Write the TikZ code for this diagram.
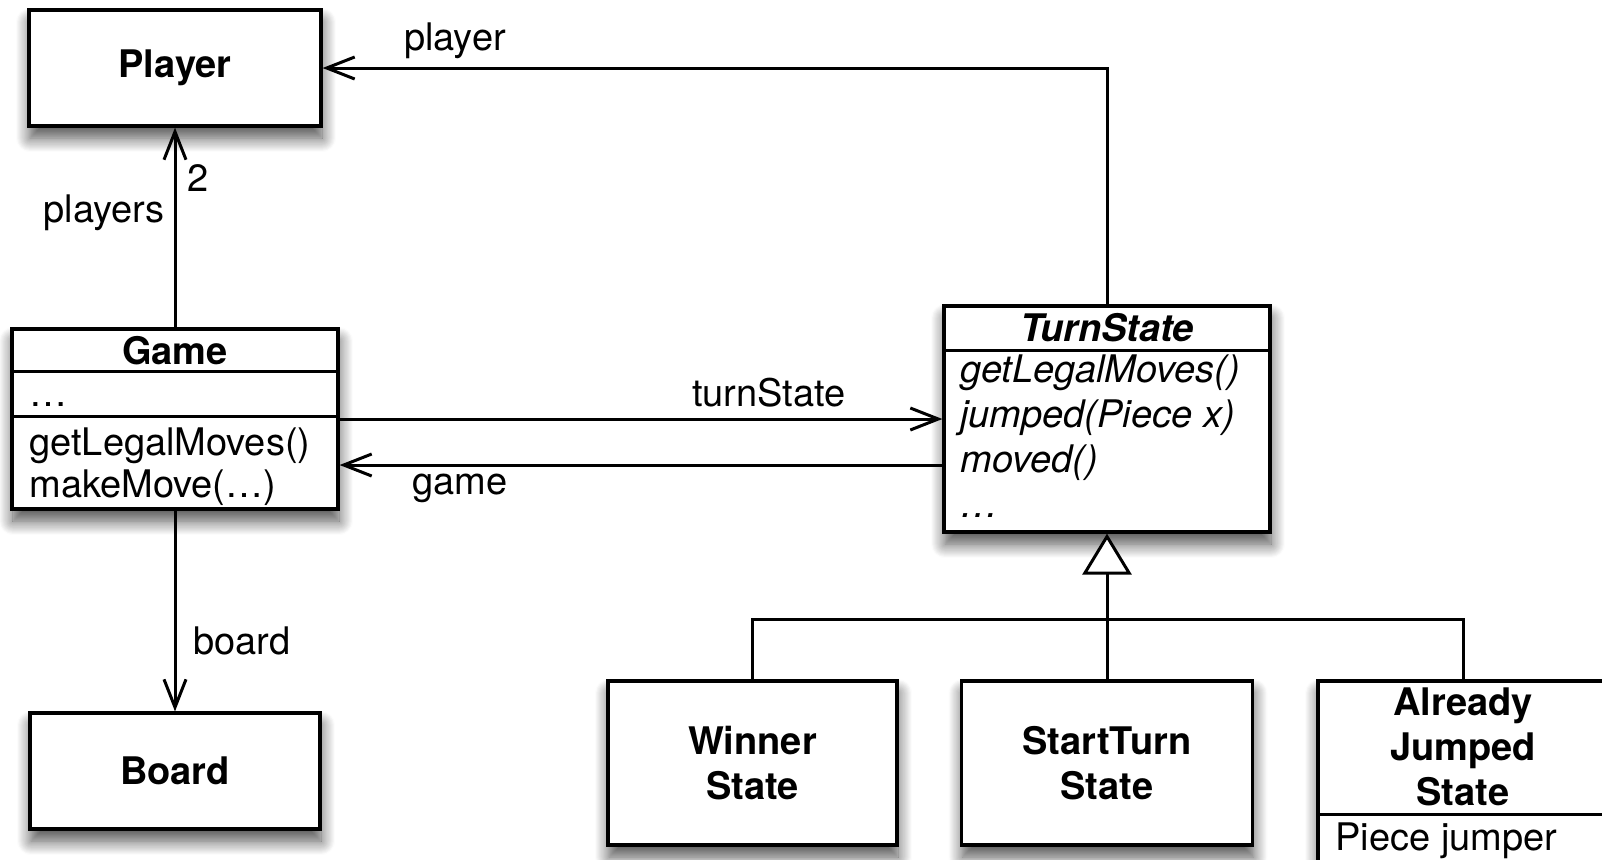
\documentclass[tikz,border=0pt]{standalone}
\usepackage{fontspec}
\setmainfont{TeX Gyre Heros}
\usetikzlibrary{arrows.meta,shadows.blur}
\newcommand{\umlsize}{\fontsize{19}{22.5}\selectfont}

\tikzset{
  klass/.style={draw, line width=1.6pt, fill=white, inner sep=0pt, align=center,
    font=\umlsize\bfseries,
    blur shadow={shadow xshift=0.5pt, shadow yshift=-6pt, shadow blur radius=7pt,
      shadow blur steps=14, shadow opacity=70}},
  classname/.style={inner sep=0pt, font=\umlsize\bfseries},
  member/.style={anchor=base west, inner sep=0pt, font=\umlsize},
  rolename/.style={anchor=base, inner sep=0pt, font=\umlsize},
  divider/.style={line width=1.6pt},
  assoc/.style={line width=1.5pt, -{Straight Barb[length=14pt, width=11pt]}},
  generalize/.style={line width=1.5pt, -{Triangle[fill=white, length=20.5pt, width=24.5pt]}},
  tree/.style={line width=1.5pt},
}

\begin{document}
\begin{tikzpicture}[x=1pt, y=-1pt]
	%%%%% START %%%%%
	\useasboundingbox (0,0) rectangle (801,429.5);

	\node[klass, minimum width=146pt, minimum height=58pt] (player) at (87.5,34) {Player};
	\node[klass, minimum width=145pt, minimum height=58pt] (board) at (87.5,385.5) {Board};

	% Game class, three compartments
	\node[klass, minimum width=163pt, minimum height=90pt] (game) at (87.5,209.5) {};
	\draw[divider] ([yshift=-22pt]game.north west) -- ([yshift=-22pt]game.north east);
	\draw[divider] ([yshift=-44.5pt]game.north west) -- ([yshift=-44.5pt]game.north east);
	\node[classname] (gamename) at (87.5,175.3) {Game};
	\node[member] (gameattr) at (14.5,203.3) {…};
	\node[member] (gameop1) at (14.5,227.5) {getLegalMoves()};
	\node[member] (gameop2) at (14.5,248.5) {makeMove(…)};

	% abstract state class
	\node[klass, minimum width=163pt, minimum height=113pt] (turnstate) at (553.5,209.5) {};
	\draw[divider] ([yshift=-23pt]turnstate.north west) -- ([yshift=-23pt]turnstate.north east);
	\node[classname, font=\umlsize\bfseries\itshape] (tsname) at (553.5,164) {TurnState};
	\node[member, font=\umlsize\itshape] (tsop1) at (480,191) {getLegalMoves()};
	\node[member, font=\umlsize\itshape] (tsop2) at (480,213.5) {jumped(Piece x)};
	\node[member, font=\umlsize\itshape] (tsop3) at (480,236) {moved()};
	\node[member, font=\umlsize\itshape] (tsop4) at (480,258.5) {…};

	% concrete states
	\node[klass, minimum width=144.5pt, minimum height=82pt] (winner) at (376.25,381.5) {Winner\\State};
	\node[klass, minimum width=145.5pt, minimum height=82pt] (starturn) at (553.5,381.5) {StartTurn\\State};
	\node[klass, minimum width=145pt, minimum height=120pt] (jumped) at (731.5,400.5) {};
	\draw[divider] ([yshift=-67.5pt]jumped.north west) -- ([yshift=-67.5pt]jumped.north east);
	\node[classname, align=center] (jumpedname) at (731.5,373.5) {Already\\Jumped\\State};
	\node[member] (jumpedattr) at (667.5,425) {Piece jumper};

	% associations
	\draw[assoc] (game.north) -- (player.south);
	\draw[assoc] (game.south) -- (board.north);
	\draw[assoc] (turnstate.north) |- (player.east);
	\draw[assoc] (game.east) -- (turnstate.west);
	\draw[assoc] ([yshift=-23pt]turnstate.west) -- ([yshift=-23pt]game.east);

	\node[rolename] (lplayer) at (227.5,25) {player};
	\node[rolename] (lplayers) at (52,111) {players};
	\node[rolename] (lmult) at (99,95.5) {2};
	\node[rolename] (lturn) at (384.5,203) {turnState};
	\node[rolename] (lgame) at (230,247) {game};
	\node[rolename] (lboard) at (121,327) {board};

	% inheritance tree
	\coordinate (bus) at (553.5,309.5);
	\draw[generalize] (starturn.north) -- (turnstate.south);
	\draw[tree] (winner.north) |- (bus) -| (jumped.north);

	%%%%% END %%%%%
\end{tikzpicture}
\end{document}
